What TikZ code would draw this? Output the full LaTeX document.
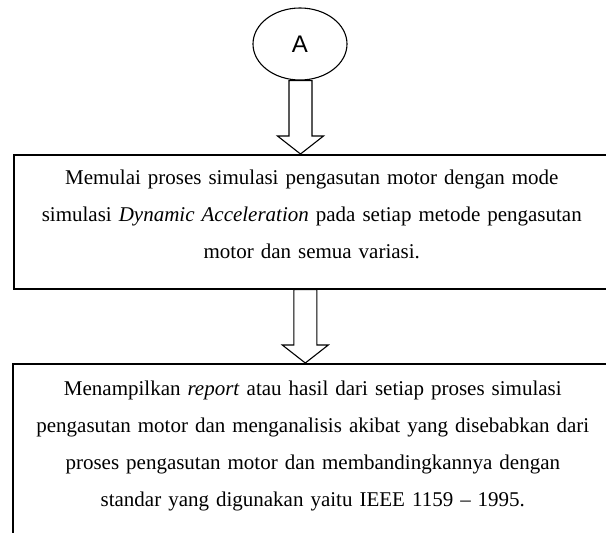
\documentclass[tikz,border=0pt]{standalone}
\usepackage{fontspec}
\setmainfont{Liberation Serif}
\newfontfamily\arialfont{Liberation Sans}
\usetikzlibrary{shapes.geometric,calc}

\newcommand{\atasstrut}{\rule{0pt}{16pt}}
\newcommand{\bawahstrut}{\rule[-16pt]{0pt}{16pt}}
\newcommand{\panahblok}[2]{%
    \draw[panah] let \p1=(#1), \p2=(#2) in
        (\x1-11.5pt,\y1) -- (\x1+11.5pt,\y1) -- (\x1+11.5pt,\y2+18pt) -- (\x1+23pt,\y2+18pt)
        -- (\x1,\y2) -- (\x1-23pt,\y2+18pt) -- (\x1-11.5pt,\y2+18pt) -- cycle;}

\begin{document}
\begin{tikzpicture}[x=1pt,y=-1pt,
        kotak/.style={draw, line width=1.6pt, rectangle, align=center, text width=580pt,
            inner sep=0pt, font=\fontsize{21}{37}\selectfont},
        panah/.style={draw, line width=1.1pt, fill=white, line join=miter}]
    \useasboundingbox (0,0) rectangle (606,533);
    \clip (0,0) rectangle (606,533);

    \node[ellipse, draw, line width=1.1pt, minimum width=94pt, minimum height=72pt, inner sep=0pt,
        font=\arialfont\fontsize{24}{24}\selectfont] (elA) at (300,44) {A};

    \node[kotak, minimum width=596pt, minimum height=134pt, anchor=north west] (mulai) at (13,154)
        {\atasstrut Memulai proses simulasi pengasutan motor dengan mode\\
        simulasi \textit{Dynamic Acceleration} pada setiap metode pengasutan\\
        motor dan semua variasi.\bawahstrut};

    \node[kotak, minimum width=600pt, minimum height=174pt, anchor=north west] (laporan) at (12,363)
        {\atasstrut Menampilkan \textit{report} atau hasil dari setiap proses simulasi\\
        pengasutan motor dan menganalisis akibat yang disebabkan dari\\
        proses pengasutan motor dan membandingkannya dengan\\
        standar yang digunakan yaitu IEEE 1159 – 1995.\bawahstrut};

    % panah blok
    \coordinate (p1) at ([xshift=0.5pt]elA.south);
    \panahblok{p1}{p1 |- mulai.north}
    \coordinate (p2) at ([xshift=-6.5pt]mulai.south);
    \panahblok{p2}{p2 |- laporan.north}
\end{tikzpicture}
\end{document}
